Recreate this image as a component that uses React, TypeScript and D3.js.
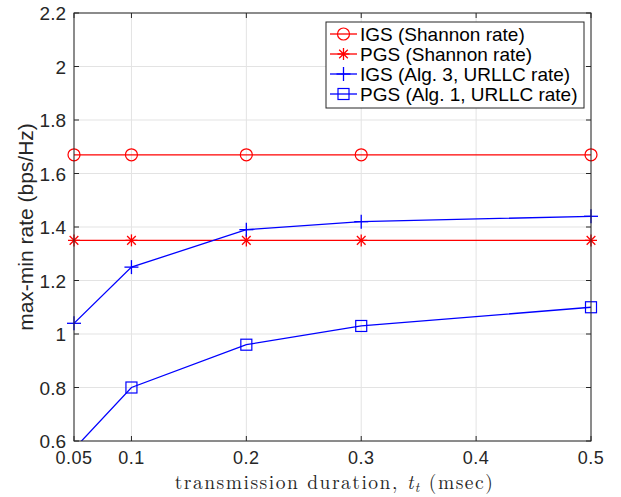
import React from "react";
import * as d3 from "d3";

const xVals = [0.05, 0.1, 0.2, 0.3, 0.5];
const igsShannon = [1.67, 1.67, 1.67, 1.67, 1.67];
const pgsShannon = [1.35, 1.35, 1.35, 1.35, 1.35];
const igsAlg3 = [1.04, 1.25, 1.39, 1.42, 1.44];
const pgsAlg1 = [0.57, 0.8, 0.96, 1.03, 1.1];
const xTicks = [0.05, 0.1, 0.2, 0.3, 0.4, 0.5];
const yTicks = [0.6, 0.8, 1, 1.2, 1.4, 1.6, 1.8, 2, 2.2];
const legendLabels = [
  "IGS (Shannon rate)",
  "PGS (Shannon rate)",
  "IGS (Alg. 3, URLLC rate)",
  "PGS (Alg. 1, URLLC rate)",
];

const L = 74, R = 591, T = 13, B = 441;
const RED = "#ff0000";
const BLUE = "#0000ff";

function Marker({ type, x, y, color }: { type: string; x: number; y: number; color: string }) {
  if (type === "o") return <circle cx={x} cy={y} r={6} fill="none" stroke={color} strokeWidth={1.2} />;
  if (type === "*") {
    const s = 6;
    const d = s * 0.72;
    return (
      <g stroke={color} strokeWidth={1.3}>
        <line x1={x - s} y1={y} x2={x + s} y2={y} />
        <line x1={x} y1={y - s} x2={x} y2={y + s} />
        <line x1={x - d} y1={y - d} x2={x + d} y2={y + d} />
        <line x1={x - d} y1={y + d} x2={x + d} y2={y - d} />
      </g>
    );
  }
  if (type === "+") {
    const s = 7;
    return (
      <g stroke={color} strokeWidth={1.3}>
        <line x1={x - s} y1={y} x2={x + s} y2={y} />
        <line x1={x} y1={y - s} x2={x} y2={y + s} />
      </g>
    );
  }
  return <rect x={x - 5.5} y={y - 5.5} width={11} height={11} fill="none" stroke={color} strokeWidth={1.2} />;
}

export default function App() {
  const x = d3.scaleLinear().domain([0.05, 0.5]).range([L, R]);
  const y = d3.scaleLinear().domain([0.6, 2.2]).range([B, T]);
  const line = d3
    .line<number>()
    .x((_, i) => x(xVals[i]))
    .y((d) => y(d));
  const series = [
    { data: igsShannon, color: RED, m: "o" },
    { data: pgsShannon, color: RED, m: "*" },
    { data: igsAlg3, color: BLUE, m: "+" },
    { data: pgsAlg1, color: BLUE, m: "s" },
  ];
  const axisColor = "#262626";
  const font = "'Liberation Sans', Arial, sans-serif";
  return (
    <svg width={621} height={497} style={{ position: "absolute", left: 0, top: 0, background: "#fff" }}>
      <defs>
        <clipPath id="plot">
          <rect x={L} y={T} width={R - L} height={B - T} />
        </clipPath>
      </defs>
      <rect x={0} y={0} width={621} height={497} fill="#fff" />
      {xTicks.map((t) => (
        <line key={"gx" + t} x1={x(t)} x2={x(t)} y1={T} y2={B} stroke="#e3e3e3" strokeWidth={1} />
      ))}
      {yTicks.map((t) => (
        <line key={"gy" + t} x1={L} x2={R} y1={y(t)} y2={y(t)} stroke="#e3e3e3" strokeWidth={1} />
      ))}
      <g clipPath="url(#plot)">
        {series.map((s, i) => (
          <path key={"l" + i} d={line(s.data) || ""} fill="none" stroke={s.color} strokeWidth={1.3} />
        ))}
      </g>
      <g>
        {series.map((s, i) =>
          s.data.map((v, j) =>
            v >= 0.6 ? <Marker key={i + "-" + j} type={s.m} x={x(xVals[j])} y={y(v)} color={s.color} /> : null
          )
        )}
      </g>
      {/* axis box */}
      <rect x={L} y={T} width={R - L} height={B - T} fill="none" stroke={axisColor} strokeWidth={1} />
      {xTicks.map((t) => (
        <g key={"xt" + t}>
          <line x1={x(t)} x2={x(t)} y1={B} y2={B - 5} stroke={axisColor} />
          <line x1={x(t)} x2={x(t)} y1={T} y2={T + 5} stroke={axisColor} />
          <text x={x(t)} y={B + 23} textAnchor="middle" fontFamily={font} fontSize={18} letterSpacing={0.5} fill="#262626">
            {String(t)}
          </text>
        </g>
      ))}
      {yTicks.map((t) => (
        <g key={"yt" + t}>
          <line x1={L} x2={L + 5} y1={y(t)} y2={y(t)} stroke={axisColor} />
          <line x1={R} x2={R - 5} y1={y(t)} y2={y(t)} stroke={axisColor} />
          <text x={L - 8} y={y(t) + 7} textAnchor="end" fontFamily={font} fontSize={19} fill="#262626">
            {String(t)}
          </text>
        </g>
      ))}
      <text
        x={(L + R) / 2 + 2}
        y={489}
        textAnchor="middle"
        fontFamily="'Latin Modern Roman', 'DejaVu Serif', 'Liberation Serif', serif"
        fontSize={19.5}
        letterSpacing={1.5}
        fill="#262626"
      >
        transmission duration,{" "}
        <tspan fontStyle="italic">t</tspan>
        <tspan fontStyle="italic" fontSize={13.5} dy={2.5}>t</tspan>
        <tspan dy={-2.5}> (msec)</tspan>
      </text>
      <text
        transform={`translate(33,${(T + B) / 2}) rotate(-90)`}
        textAnchor="middle"
        fontFamily={font}
        fontSize={21}
        fill="#262626"
      >
        max-min rate (bps/Hz)
      </text>
      {/* legend */}
      <g>
        <rect x={326} y={22} width={258} height={86} fill="#fff" stroke={axisColor} strokeWidth={1} />
        {series.map((s, i) => {
          const ly = 34 + i * 20;
          return (
            <g key={"lg" + i}>
              <line x1={330} x2={357} y1={ly} y2={ly} stroke={s.color} strokeWidth={1.3} />
              <Marker type={s.m} x={343.5} y={ly} color={s.color} />
              <text x={360} y={ly + 6.5} fontFamily={font} fontSize={19} fill="#000">
                {legendLabels[i]}
              </text>
            </g>
          );
        })}
      </g>
    </svg>
  );
}
